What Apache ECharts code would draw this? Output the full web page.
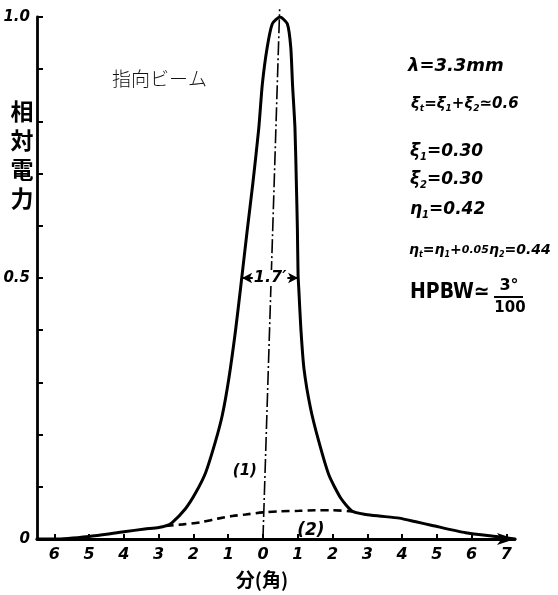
<!DOCTYPE html>
<html><head><meta charset="utf-8">
<script src="https://cdn.jsdelivr.net/npm/echarts@6/dist/echarts.min.js"></script>
<style>html,body{margin:0;padding:0;background:#fff}#c{width:558px;height:595px}</style>
</head><body><div id="c"></div>
<script>
// ---- data ----
const xTickValues = [-6,-5,-4,-3,-2,-1,0,1,2,3,4,5,6,7];
const yTickLabels = [0, 0.5, 1.0];
const yTickValues = [0,0.1,0.2,0.3,0.4,0.5,0.6,0.7,0.8,0.9,1.0];

// curve (1): relative power vs angle (minutes)
const curve1X = [-6.5,-6,-5,-4,-3.4,-3,-2.8,-2.62,-2.23,-1.94,-1.65,-1.37,-1.17,-0.98,-0.79,-0.64,-0.45,-0.29,-0.12,-0.02,0.12,0.27,0.49,0.70,0.80,0.85,0.92,0.96,0.99,1.01,1.03,1.09,1.18,1.37,1.61,1.90,2.24,2.57,2.96,3.34,3.92,4.4,4.87,5.83,6.81,7.25];
const curve1Y = [0,0.0,0.005,0.014,0.019,0.022,0.025,0.031,0.058,0.088,0.127,0.186,0.237,0.308,0.399,0.483,0.593,0.682,0.787,0.870,0.941,0.987,1.0,0.987,0.942,0.871,0.788,0.684,0.595,0.505,0.48,0.403,0.326,0.250,0.186,0.122,0.078,0.053,0.047,0.044,0.040,0.033,0.026,0.012,0.004,0.0];

// curve (2): dashed
const curve2X = [-2.8,-2.3,-1.8,-1.3,-0.88,-0.5,0,0.5,1.04,1.5,2.0,2.57];
const curve2Y = [0.025,0.028,0.032,0.039,0.044,0.047,0.051,0.053,0.054,0.055,0.055,0.053];

// beam axis (dash-dot)
const axisLineX = [0, 0.48];
const axisLineY = [0, 1.015];

// HPBW marker
const hpbwStart = -0.60, hpbwEnd = 1.01, hpbwLevel = 0.5, hpbwText = '1.7′';

// labels
const label1 = {text:'(1)', x:-0.52, y:0.13};
const label2 = {text:'(2)', x:1.38, y:0.016};

const toPairs = (xs, ys) => xs.map((x,i)=>[x, ys[i]]);

const chart = echarts.init(document.getElementById('c'), null, {renderer:'canvas'});
const numFont = {fontFamily:'DejaVu Sans', fontWeight:'bold', fontStyle:'italic', color:'#000'};

chart.setOption({
  animation:false,
  backgroundColor:'#fff',
  grid:{left:37, right:43, top:17, bottom:56, containLabel:false},
  xAxis:{
    type:'value', min:-6.5, max:7.25,
    axisLine:{show:true, onZero:false, symbol:['none','arrow'], symbolSize:[9,18], lineStyle:{color:'#000', width:2.8}},
    axisTick:{show:true, inside:true, length:5, customValues:xTickValues, lineStyle:{color:'#000', width:2}},
    axisLabel:{show:true, customValues:xTickValues, margin:8, fontSize:16, ...numFont, formatter:v=>String(Math.abs(v))},
    splitLine:{show:false}
  },
  yAxis:{
    type:'value', min:0, max:1, interval:0.1,
    axisLine:{show:true, onZero:false, lineStyle:{color:'#000', width:2.8}},
    axisTick:{show:true, inside:true, length:6, customValues:yTickValues, lineStyle:{color:'#000', width:2}},
    axisLabel:{show:true, customValues:yTickLabels, margin:7, fontSize:15, ...numFont,
      formatter:v=> v===1 ? '1.0' : (v===0 ? '0' : String(v))},
    splitLine:{show:false}
  },
  series:[
    {
      type:'line', data:toPairs(curve1X, curve1Y), smooth:0.2, symbol:'none',
      lineStyle:{color:'#000', width:3, cap:'round', join:'round'},
      z:3,
      markLine:{
        silent:true, symbol:['arrow','arrow'], symbolSize:[8,10],
        lineStyle:{type:'solid', color:'#000', width:1.8},
        label:{show:true, position:'insideMiddle', formatter:hpbwText, fontSize:16, ...numFont,
               backgroundColor:'#fff', padding:[0,1]},
        data:[[{coord:[hpbwStart,hpbwLevel]},{coord:[hpbwEnd,hpbwLevel]}]]
      }
    },
    {
      type:'line', data:toPairs(curve2X, curve2Y), smooth:0.3, symbol:'none',
      lineStyle:{color:'#000', width:2.6, type:[8,5]}, z:2
    },
    {
      type:'line', data:toPairs(axisLineX, axisLineY), symbol:'none', clip:false,
      lineStyle:{color:'#000', width:1.6, type:[14,3,2,3]}, z:1
    }
  ]
});

// text annotations positioned through the chart's own scales
const p1 = chart.convertToPixel({gridIndex:0}, [label1.x, label1.y]);
const p2 = chart.convertToPixel({gridIndex:0}, [label2.x, label2.y]);

const mainR = {fontFamily:'DejaVu Sans', fontWeight:'bold', fontStyle:'italic', fill:'#000'};
function richStyle(size){
  return {
    m:{fontSize:size, lineHeight:size+4, fontFamily:'DejaVu Sans', fontWeight:'bold', fontStyle:'italic', color:'#000'},
    s:{fontSize:Math.round(size*0.6), lineHeight:Math.round(size*0.6), verticalAlign:'bottom', fontFamily:'DejaVu Sans', fontWeight:'bold', fontStyle:'italic', color:'#000'},
    k:{fontSize:Math.round(size*0.75), lineHeight:size+4, fontFamily:'DejaVu Sans', fontWeight:'bold', fontStyle:'italic', color:'#000'}
  };
}

chart.setOption({
  graphic:[
    {type:'text', x:p1[0], y:p1[1], style:{text:label1.text, fontSize:15, ...mainR, align:'center', verticalAlign:'middle'}},
    {type:'text', x:p2[0], y:p2[1], style:{text:label2.text, fontSize:17, ...mainR, align:'center', verticalAlign:'middle'}},
    {type:'text', x:112, y:79, style:{text:'指向ビーム', fontSize:19, fontFamily:'Noto Sans CJK JP', fontWeight:300, fill:'#111', verticalAlign:'middle'}},
    {type:'text', x:22, y:97, style:{text:'相\n対\n電\n力', fontSize:23, lineHeight:29, fontFamily:'Noto Sans CJK JP', fontWeight:'bold', fill:'#000', align:'center', verticalAlign:'top'}},
    {type:'text', x:262, y:580, style:{text:'分(角)', fontSize:19, fontFamily:'Noto Sans CJK JP', fontWeight:'bold', fill:'#000', align:'center', verticalAlign:'middle'}},
    {type:'text', x:408, y:66, style:{text:'{m|λ=3.3mm}', rich:richStyle(18), verticalAlign:'middle'}},
    {type:'text', x:411, y:104, style:{text:'{m|ξ}{s|t}{m|=ξ}{s|1}{m|+ξ}{s|2}{m|≃0.6}', rich:richStyle(15), verticalAlign:'middle'}},
    {type:'text', x:410, y:152, style:{text:'{m|ξ}{s|1}{m|=0.30}', rich:richStyle(17), verticalAlign:'middle'}},
    {type:'text', x:410, y:180, style:{text:'{m|ξ}{s|2}{m|=0.30}', rich:richStyle(17), verticalAlign:'middle'}},
    {type:'text', x:410, y:210, style:{text:'{m|η}{s|1}{m|=0.42}', rich:richStyle(17), verticalAlign:'middle'}},
    {type:'text', x:409, y:250, style:{text:'{m|η}{s|t}{m|=η}{s|1}{m|+}{k|0.05}{m|η}{s|2}{m|=0.44}', rich:richStyle(14), verticalAlign:'middle'}},
    {type:'text', x:410, y:293, style:{text:'HPBW≃', fontSize:21, fontFamily:'DejaVu Sans Condensed', fontWeight:'bold', fill:'#000', verticalAlign:'middle'}},
    {type:'text', x:509, y:286, style:{text:'3°', fontSize:16, fontFamily:'DejaVu Sans', fontWeight:'bold', fill:'#000', align:'center', verticalAlign:'middle'}},
    {type:'line', shape:{x1:494, y1:297, x2:523, y2:297}, style:{stroke:'#000', lineWidth:2}},
    {type:'text', x:510, y:308, style:{text:'100', fontSize:15, fontFamily:'DejaVu Sans', fontWeight:'bold', fill:'#000', align:'center', verticalAlign:'middle'}}
  ]
});
</script>
</body></html>
